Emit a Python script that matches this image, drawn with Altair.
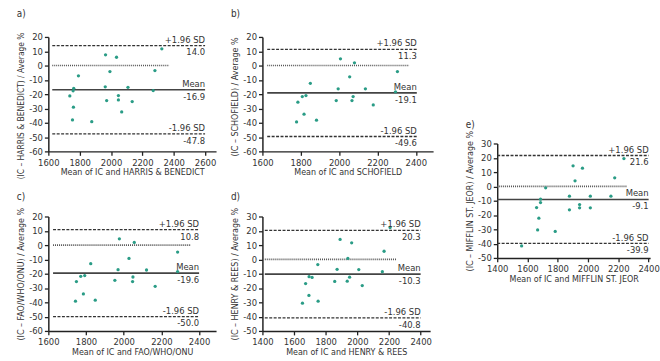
import altair as alt
import pandas as pd

FONT = "DejaVu Sans Condensed, DejaVu Sans"
DOT = "#2a9c86"
INK = "#333333"

# ---------------- data ----------------
a_x = [2324, 1965, 2035, 1993, 2280, 1792, 1762, 1758, 1963, 2108, 2269, 1737, 2047, 1972, 2047, 2135, 1760, 2068, 1754, 1877]
a_y = [11.7, 7.5, 5.8, -4.2, -3.5, -7.2, -15.9, -17.7, -14.9, -15.2, -17.5, -21.2, -21.0, -24.5, -24.0, -25.2, -29.1, -32.4, -38.0, -39.2]

b_x = [2007, 2080, 2055, 2304, 1850, 1995, 2137, 2294, 1827, 1808, 1785, 1985, 2067, 2073, 2178, 1817, 1882, 1778]
b_y = [4.7, 1.9, -7.9, -4.2, -12.4, -16.3, -16.3, -18.4, -21.0, -21.7, -25.6, -24.5, -24.5, -21.7, -27.5, -34.0, -38.2, -39.4]

c_x = [1977, 2056, 2028, 2286, 1825, 1970, 2121, 2286, 1793, 1772, 1749, 1953, 2049, 2047, 2167, 1786, 1849, 1744]
c_y = [4.4, 1.9, -9.3, -4.9, -13.0, -17.2, -17.4, -18.5, -21.3, -21.8, -25.5, -24.6, -22.3, -25.5, -28.8, -34.1, -38.5, -39.2]

d_x = [2207, 1891, 1964, 2169, 1940, 1750, 1872, 2009, 2158, 1695, 1714, 1951, 1857, 1936, 1673, 2031, 1694, 1653, 1752]
d_y = [22.3, 14.0, 11.6, 5.7, 0.7, -3.6, -6.9, -7.1, -8.6, -12.1, -12.6, -12.4, -15.4, -15.2, -16.9, -18.3, -25.2, -30.6, -29.2]

e_x = [2237, 1901, 1963, 1914, 2176, 1720, 1686, 1686, 1877, 2015, 2151, 1660, 1877, 1944, 1944, 2015, 1675, 1667, 1783, 1561]
e_y = [19.5, 14.4, 12.7, 3.9, 6.0, -1.0, -8.9, -11.3, -6.8, -6.8, -6.8, -14.8, -16.4, -12.7, -15.0, -15.0, -22.2, -30.4, -31.5, -41.6]

panel_labels = ["a)", "b)", "c)", "d)", "e)"]
x_titles = ["Mean of IC and HARRIS & BENEDICT", "Mean of IC and SCHOFIELD",
            "Mean of IC and FAO/WHO/ONU", "Mean of IC and HENRY & REES",
            "Mean of IC and MIFFLIN ST. JEOR"]
y_titles = ["(IC – HARRIS & BENEDICT) / Average %", "(IC – SCHOFIELD) / Average %",
            "(IC – FAO/WHO/ONU) / Average %", "(IC – HENRY & REES) / Average %",
            "(IC – MIFFLIN ST. JEOR) / Average %"]
means = [-16.9, -19.1, -19.6, -10.3, -9.1]
uppers = [14.0, 11.3, 10.8, 20.3, 21.6]
lowers = [-47.8, -49.6, -50.0, -40.8, -39.9]
x_domains = [[1600, 2670], [1600, 2490], [1600, 2490], [1400, 2460], [1400, 2410]]
x_ticks = [[1600, 1800, 2000, 2200, 2400, 2600],
           [1600, 1800, 2000, 2200, 2400],
           [1600, 1800, 2000, 2200, 2400],
           [1400, 1600, 1800, 2000, 2200, 2400],
           [1400, 1600, 1800, 2000, 2200, 2400]]
y_domains = [[-60, 20], [-60, 20], [-60, 20], [-50, 30], [-50, 30]]
y_ticks = [[-60, -50, -40, -30, -20, -10, 0, 10, 20]] * 3 + [[-50, -40, -30, -20, -10, 0, 10, 20, 30]] * 2
line_start = [1625, 1625, 1625, 1415, 1400]
line_end = [2600, 2405, 2400, 2400, 2400]
zero_end = [2370, 2366, 2353, 2246, 2256]
title_anchor = ["end", "end", "middle", "middle", "middle"]
ytitle_size = [8.5, 9, 9, 9, 9]
label_offset = [13, 13, 5, 5, 0]
widths = [170, 173, 170, 170, 155]
PH = 116


def panel(i, xs, ys):
    xsc = alt.Scale(domain=x_domains[i], nice=False, zero=False)
    ysc = alt.Scale(domain=y_domains[i], nice=False, zero=False)
    xax = alt.Axis(values=x_ticks[i], format="d", title=x_titles[i], titlePadding=1)
    yopts = dict(values=y_ticks[i], title=y_titles[i], labelExpr="'' + datum.value",
                 titleAnchor=title_anchor[i], titleFontSize=ytitle_size[i])
    if i == 0:
        yopts["titleY"] = -5
    yax = alt.Axis(**yopts)

    def X(f="x"):
        return alt.X(f + ":Q", scale=xsc, axis=xax)

    def Y(f="y"):
        return alt.Y(f + ":Q", scale=ysc, axis=yax)

    pts = pd.DataFrame({"x": xs, "y": ys})
    sd = pd.DataFrame({"x": [line_start[i]] * 2, "x2": [line_end[i]] * 2,
                       "y": [uppers[i], lowers[i]]})
    mn = pd.DataFrame({"x": [line_start[i]], "x2": [line_end[i]], "y": [means[i]]})
    zr = pd.DataFrame({"x": [line_start[i]], "x2": [zero_end[i]], "y": [0]})
    txt = pd.DataFrame({"x": [line_end[i]] * 3,
                        "y": [uppers[i], means[i], lowers[i]],
                        "above": ["+1.96 SD", "Mean", "-1.96 SD"],
                        "below": [f"{uppers[i]:.1f}", f"{means[i]:.1f}", f"{lowers[i]:.1f}"]})

    zero_l = alt.Chart(zr).mark_rule(color="#555555", strokeWidth=1.6, strokeDash=[1, 1]).encode(
        x=X(), x2="x2:Q", y=Y())
    sd_l = alt.Chart(sd).mark_rule(color=INK, strokeWidth=1.3, strokeDash=[3, 1.5]).encode(
        x=X(), x2="x2:Q", y=Y())
    mn_l = alt.Chart(mn).mark_rule(color="#444444", strokeWidth=1.6).encode(
        x=X(), x2="x2:Q", y=Y())
    dots = alt.Chart(pts).mark_circle(size=11, color=DOT, opacity=1).encode(x=X(), y=Y())
    t_above = alt.Chart(txt).mark_text(align="right", baseline="bottom", dy=-1, font=FONT,
                                       fontSize=9.5, color=INK).encode(x=X(), y=Y(), text="above:N")
    t_below = alt.Chart(txt).mark_text(align="right", baseline="top", dy=2, font=FONT,
                                       fontSize=9.5, color=INK).encode(x=X(), y=Y(), text="below:N")
    return alt.layer(zero_l, sd_l, mn_l, dots, t_above, t_below).properties(
        width=widths[i], height=PH,
        title=alt.TitleParams(text=panel_labels[i], anchor="start", frame="bounds",
                              font=FONT, fontSize=10, fontWeight="normal",
                              offset=label_offset[i], color=INK))


pa = panel(0, a_x, a_y)
pb = panel(1, b_x, b_y)
pc = panel(2, c_x, c_y)
pd_ = panel(3, d_x, d_y)
pe = panel(4, e_x, e_y)

spacer = alt.Chart(pd.DataFrame({"v": [0]})).mark_point(opacity=0, size=1).encode(
    x=alt.value(2), y=alt.value(2)).properties(width=5, height=108)

col1 = alt.vconcat(pa, pc, spacing=66, bounds="flush")
col2 = alt.vconcat(pb, pd_, spacing=66, bounds="flush")
col3 = alt.vconcat(spacer, pe, spacing=0, bounds="flush")

chart = alt.hconcat(alt.hconcat(col1, col2, spacing=15), col3, spacing=33).properties(
    padding={"left": 17, "top": 7, "right": 0, "bottom": 0}
).configure_view(stroke=None).configure_axis(
    grid=False, domainColor="#222222", domainWidth=1.5, tickColor="#222222", tickWidth=1.3,
    tickSize=4, labelFont=FONT, labelFontSize=9.5, labelColor=INK, labelPadding=2,
    titleFont=FONT, titleFontSize=9, titleFontWeight="normal", titleColor=INK,
    titlePadding=3
).configure_axisX(labelFlush=False)

chart.save("out.html", embed_options={"renderer": "svg", "actions": False})
